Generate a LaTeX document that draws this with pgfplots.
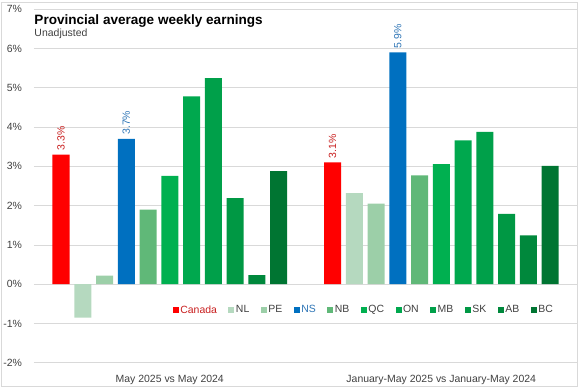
\documentclass[border=0pt]{standalone}
\usepackage{fontspec}
\setmainfont{Liberation Sans}
\usepackage{pgfplots}
\pgfplotsset{compat=1.18}
\definecolor{gridgray}{HTML}{D9D9D9}
\definecolor{tickgray}{HTML}{404040}
\definecolor{cCA}{HTML}{FF0000}
\definecolor{cNL}{HTML}{B5D9BF}
\definecolor{cPE}{HTML}{9CCFA8}
\definecolor{cNS}{HTML}{0070C0}
\definecolor{cNB}{HTML}{60B878}
\definecolor{cQC}{HTML}{00B050}
\definecolor{cON}{HTML}{00A84E}
\definecolor{cMB}{HTML}{00A04A}
\definecolor{cSK}{HTML}{009844}
\definecolor{cAB}{HTML}{00883C}
\definecolor{cBC}{HTML}{007532}
\definecolor{labred}{HTML}{C81E1E}
\definecolor{labblue}{HTML}{2E75B6}
\begin{document}
\begin{tikzpicture}[x=1bp,y=1bp]
\path[use as bounding box] (-34,-24.3) rectangle (546,362.7);
\draw[gridgray, line width=0.75bp] (-33,-23.3) rectangle (543,360.2);
\begin{axis}[
  at={(0,0)}, anchor=south west, scale only axis,
  width=543bp, height=353.4bp,
  xmin=-0.5, xmax=1.5, ymin=-2, ymax=7,
  ytick={-2,-1,0,1,2,3,4,5,6,7},
  yticklabel={\pgfmathprintnumber{\tick}\%},
  /pgf/number format/assume math mode=true,
  ymajorgrids, grid style={gridgray, line width=0.75bp},
  axis line style={draw=none}, tick style={draw=none},
  xtick={0,1},
  xticklabels={May 2025 vs May 2024, January-May 2025 vs January-May 2024},
  every tick label/.append style={font=\fontsize{10.5}{12}\selectfont, text=tickgray},
  yticklabel style={xshift=-8.5bp},
  xticklabel style={yshift=-5bp},
  ybar=4.75bp, bar width=17bp,
  every axis plot/.append style={draw=none},
  legend columns=-1,
  legend style={draw=none, fill=none, at={(0.607,0.149)}, anchor=center,
    font=\fontsize{10.5}{12}\selectfont, text=tickgray,
    nodes={inner xsep=1.5bp},
    /tikz/every even column/.append style={column sep=10bp}},
  legend image code/.code={\fill[#1] (0bp,-3bp) rectangle (6bp,3bp);},
  nodes near coords style={font=\fontsize{10.5}{12}\selectfont},
]
\addplot[fill=cCA, nodes near coords={\pgfmathprintnumber[fixed,precision=1,fixed zerofill]{\pgfplotspointmeta}\%},
  every node near coord/.append style={rotate=90, anchor=west, text=labred, inner sep=4bp}]
  coordinates {(0,3.3) (1,3.1)};
\addlegendentry{\textcolor{labred}{Canada}}
\addplot[fill=cNL] coordinates {(0,-0.85) (1,2.32)};
\addlegendentry{NL}
\addplot[fill=cPE] coordinates {(0,0.22) (1,2.05)};
\addlegendentry{PE}
\addplot[fill=cNS, nodes near coords={\pgfmathprintnumber[fixed,precision=1,fixed zerofill]{\pgfplotspointmeta}\%},
  every node near coord/.append style={rotate=90, anchor=west, text=labblue, inner sep=4bp}]
  coordinates {(0,3.7) (1,5.9)};
\addlegendentry{\textcolor{labblue}{NS}}
\addplot[fill=cNB] coordinates {(0,1.9) (1,2.77)};
\addlegendentry{NB}
\addplot[fill=cQC] coordinates {(0,2.76) (1,3.06)};
\addlegendentry{QC}
\addplot[fill=cON] coordinates {(0,4.78) (1,3.66)};
\addlegendentry{ON}
\addplot[fill=cMB] coordinates {(0,5.25) (1,3.88)};
\addlegendentry{MB}
\addplot[fill=cSK] coordinates {(0,2.19) (1,1.79)};
\addlegendentry{SK}
\addplot[fill=cAB] coordinates {(0,0.23) (1,1.24)};
\addlegendentry{AB}
\addplot[fill=cBC] coordinates {(0,2.88) (1,3.01)};
\addlegendentry{BC}
\end{axis}
\node[anchor=base west, inner sep=0pt, font=\bfseries\fontsize{13.6}{16}\selectfont] at (0.3,338.2) {Provincial average weekly earnings};
\node[anchor=base west, inner sep=0pt, font=\fontsize{10.5}{12}\selectfont, text=tickgray] at (0.3,326.2) {Unadjusted};
\end{tikzpicture}
\end{document}
